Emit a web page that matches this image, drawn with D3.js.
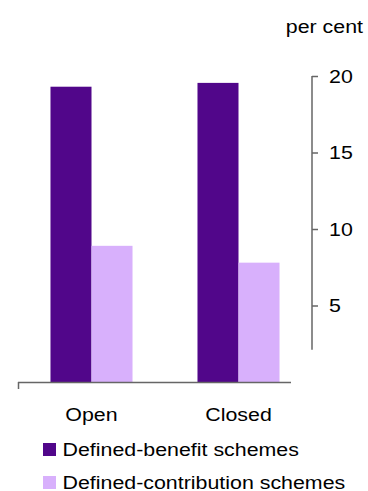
<!DOCTYPE html>
<html>
<head>
<meta charset="utf-8">
<script src="https://cdn.jsdelivr.net/npm/d3@7"></script>
<style>
  html, body { margin: 0; padding: 0; background: #fff; }
  svg { display: block; }
  text { font-family: "Liberation Sans", Arial, sans-serif; fill: #000; }
</style>
</head>
<body>
<svg id="chart" width="368" height="491"></svg>
<script>
// Scheme status categories and the two series (per cent)
const categories = ["Open", "Closed"];
const seriesNames = ["Defined-benefit schemes", "Defined-contribution schemes"];
const definedBenefit = [19.3, 19.55];
const definedContribution = [8.9, 7.8];
const yTicks = [5, 10, 15, 20];
const unitLabel = "per cent";

const colors = ["#51068a", "#d8b0fc"];
const fontSize = 19;
const stretch = 1.125; // text is drawn slightly wide

const svg = d3.select("#chart");

const x0 = d3.scaleBand().domain(categories).range([18, 312])
  .paddingInner(0.442).paddingOuter(0.221);
const x1 = d3.scaleBand().domain(seriesNames).range([0, x0.bandwidth()]);
const y = d3.scaleLinear().domain([0, 20]).range([382, 76]);

const rows = categories.map((c, i) => ({
  cat: c,
  vals: [definedBenefit[i], definedContribution[i]]
}));

// bars
const groups = svg.append("g").selectAll("g").data(rows).join("g")
  .attr("transform", d => `translate(${x0(d.cat)},0)`);
groups.selectAll("rect")
  .data(d => d.vals.map((v, j) => ({ name: seriesNames[j], v, j })))
  .join("rect")
  .attr("x", d => x1(d.name))
  .attr("width", x1.bandwidth())
  .attr("y", d => y(d.v))
  .attr("height", d => y(0) - y(d.v))
  .attr("fill", d => colors[d.j]);

// helper for slightly widened text
function label(g, txt, xPos, yPos, anchor) {
  g.append("text")
    .attr("transform", `translate(${xPos},${yPos}) scale(${stretch},1)`)
    .attr("text-anchor", anchor || "start")
    .attr("font-size", fontSize)
    .text(txt);
}

// baseline (category axis)
const axisColor = "#666";
svg.append("line")
  .attr("x1", 18).attr("x2", 291)
  .attr("y1", y(0) + 0.5).attr("y2", y(0) + 0.5)
  .attr("stroke", axisColor).attr("stroke-width", 1.5);
svg.append("line")
  .attr("x1", 18.5).attr("x2", 18.5)
  .attr("y1", y(0)).attr("y2", y(0) + 7)
  .attr("stroke", axisColor).attr("stroke-width", 1.5);

// category labels
const catG = svg.append("g");
categories.forEach(c => label(catG, c, x0(c) + x0.bandwidth() / 2, 420.5, "middle"));

// value axis on the right
const yAxisX = 312;
const yAxis = d3.axisRight(y).tickValues(yTicks).tickSize(6).tickFormat("");
const axG = svg.append("g").attr("transform", `translate(${yAxisX},0)`).call(yAxis);
axG.select(".domain").remove();
axG.selectAll(".tick line").attr("stroke", axisColor).attr("stroke-width", 1.5);
axG.append("line")
  .attr("x1", 0).attr("x2", 0)
  .attr("y1", y(20)).attr("y2", y(2.1))
  .attr("stroke", axisColor).attr("stroke-width", 1.5);

const tickG = svg.append("g");
yTicks.forEach(t => label(tickG, String(t), 329, y(t) + 6.8, "start"));

// unit label
label(svg, unitLabel, 363, 33, "end");

// legend
const legG = svg.append("g");
seriesNames.forEach((name, i) => {
  const ly = 443 + i * 33;
  legG.append("rect")
    .attr("x", 43).attr("y", ly).attr("width", 13).attr("height", 13)
    .attr("fill", colors[i]);
  label(legG, name, 62.5, ly + 13, "start");
});
</script>
</body>
</html>
